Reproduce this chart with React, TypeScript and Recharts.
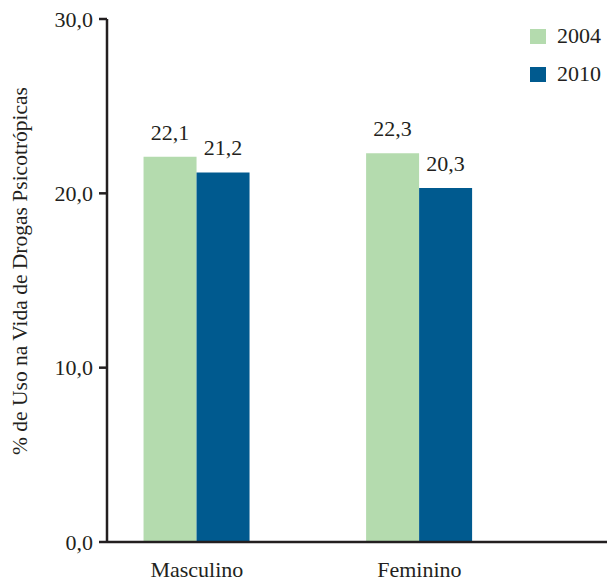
import React from 'react';
import { BarChart, Bar, XAxis, YAxis, LabelList, Legend } from 'recharts';

const categories = ['Masculino', 'Feminino'];
const series2004 = [22.1, 22.3];
const series2010 = [21.2, 20.3];
const yTicks = [0, 10, 20, 30];
const seriesNames = ['2004', '2010'];

const GREEN = '#b4dbae';
const BLUE = '#005a8f';
const INK = '#231f20';
const FONT = "'Liberation Serif', 'DejaVu Serif', serif";

const fmt = (v: number) => v.toFixed(1).replace('.', ',');

const YLabel = () => (
  <text
    x={20}
    y={271}
    transform="rotate(-90, 20, 271)"
    textAnchor="middle"
    dominantBaseline="central"
    style={{ fontFamily: FONT }}
    fontSize={21.5}
    fill={INK}
  >
    % de Uso na Vida de Drogas Psicotrópicas
  </text>
);

const LegendBox = () => (
  <div style={{ fontFamily: FONT, fontSize: 22, color: INK }}>
    {seriesNames.map((n, i) => (
      <div key={n} style={{ display: 'flex', alignItems: 'center', height: 38 }}>
        <span style={{ width: 16, height: 15, background: i === 0 ? GREEN : BLUE, marginRight: 11 }} />
        <span>{n}</span>
      </div>
    ))}
  </div>
);

export default function App() {
  const data = categories.map((name, i) => ({
    idx: i,
    name,
    y2004: series2004[i],
    y2010: series2010[i],
  }));

  const tickStyle = { fill: INK, fontFamily: FONT, fontSize: 22 };

  return (
    <div style={{ position: 'absolute', left: 0, top: 0, background: '#fff', fontFamily: FONT }}>
      <BarChart
        width={608}
        height={582}
        data={data}
        margin={{ top: 19, right: 1, bottom: 0, left: 0 }}
        barGap={0}
        barSize={53}
        style={{ fontFamily: FONT }}
      >
        <XAxis
          type="number"
          dataKey="idx"
          domain={[-0.4036, 1.843]}
          ticks={[0, 1]}
          tickFormatter={(v: number) => categories[v]}
          tickLine={false}
          tickSize={8}
          tickMargin={11}
          height={40}
          axisLine={{ stroke: INK, strokeWidth: 2.5 }}
          tick={tickStyle}
          allowDataOverflow
        />
        <YAxis
          type="number"
          domain={[0, 30]}
          ticks={yTicks}
          tickFormatter={fmt}
          width={107}
          tickSize={8}
          tickMargin={6}
          axisLine={{ stroke: INK, strokeWidth: 2.5 }}
          tickLine={{ stroke: INK, strokeWidth: 2.5 }}
          tick={tickStyle}
          label={{ content: <YLabel /> }}
        />
        <Legend
          layout="vertical"
          verticalAlign="middle"
          align="center"
          content={<LegendBox />}
          wrapperStyle={{ position: 'absolute', top: 17, left: 530, width: 80 }}
        />
        <Bar dataKey="y2004" name="2004" fill={GREEN} isAnimationActive={false}>
          <LabelList dataKey="y2004" position="top" offset={17} formatter={(v: any) => fmt(Number(v))} style={tickStyle} />
        </Bar>
        <Bar dataKey="y2010" name="2010" fill={BLUE} isAnimationActive={false}>
          <LabelList dataKey="y2010" position="top" offset={17} formatter={(v: any) => fmt(Number(v))} style={tickStyle} />
        </Bar>
      </BarChart>
    </div>
  );
}
